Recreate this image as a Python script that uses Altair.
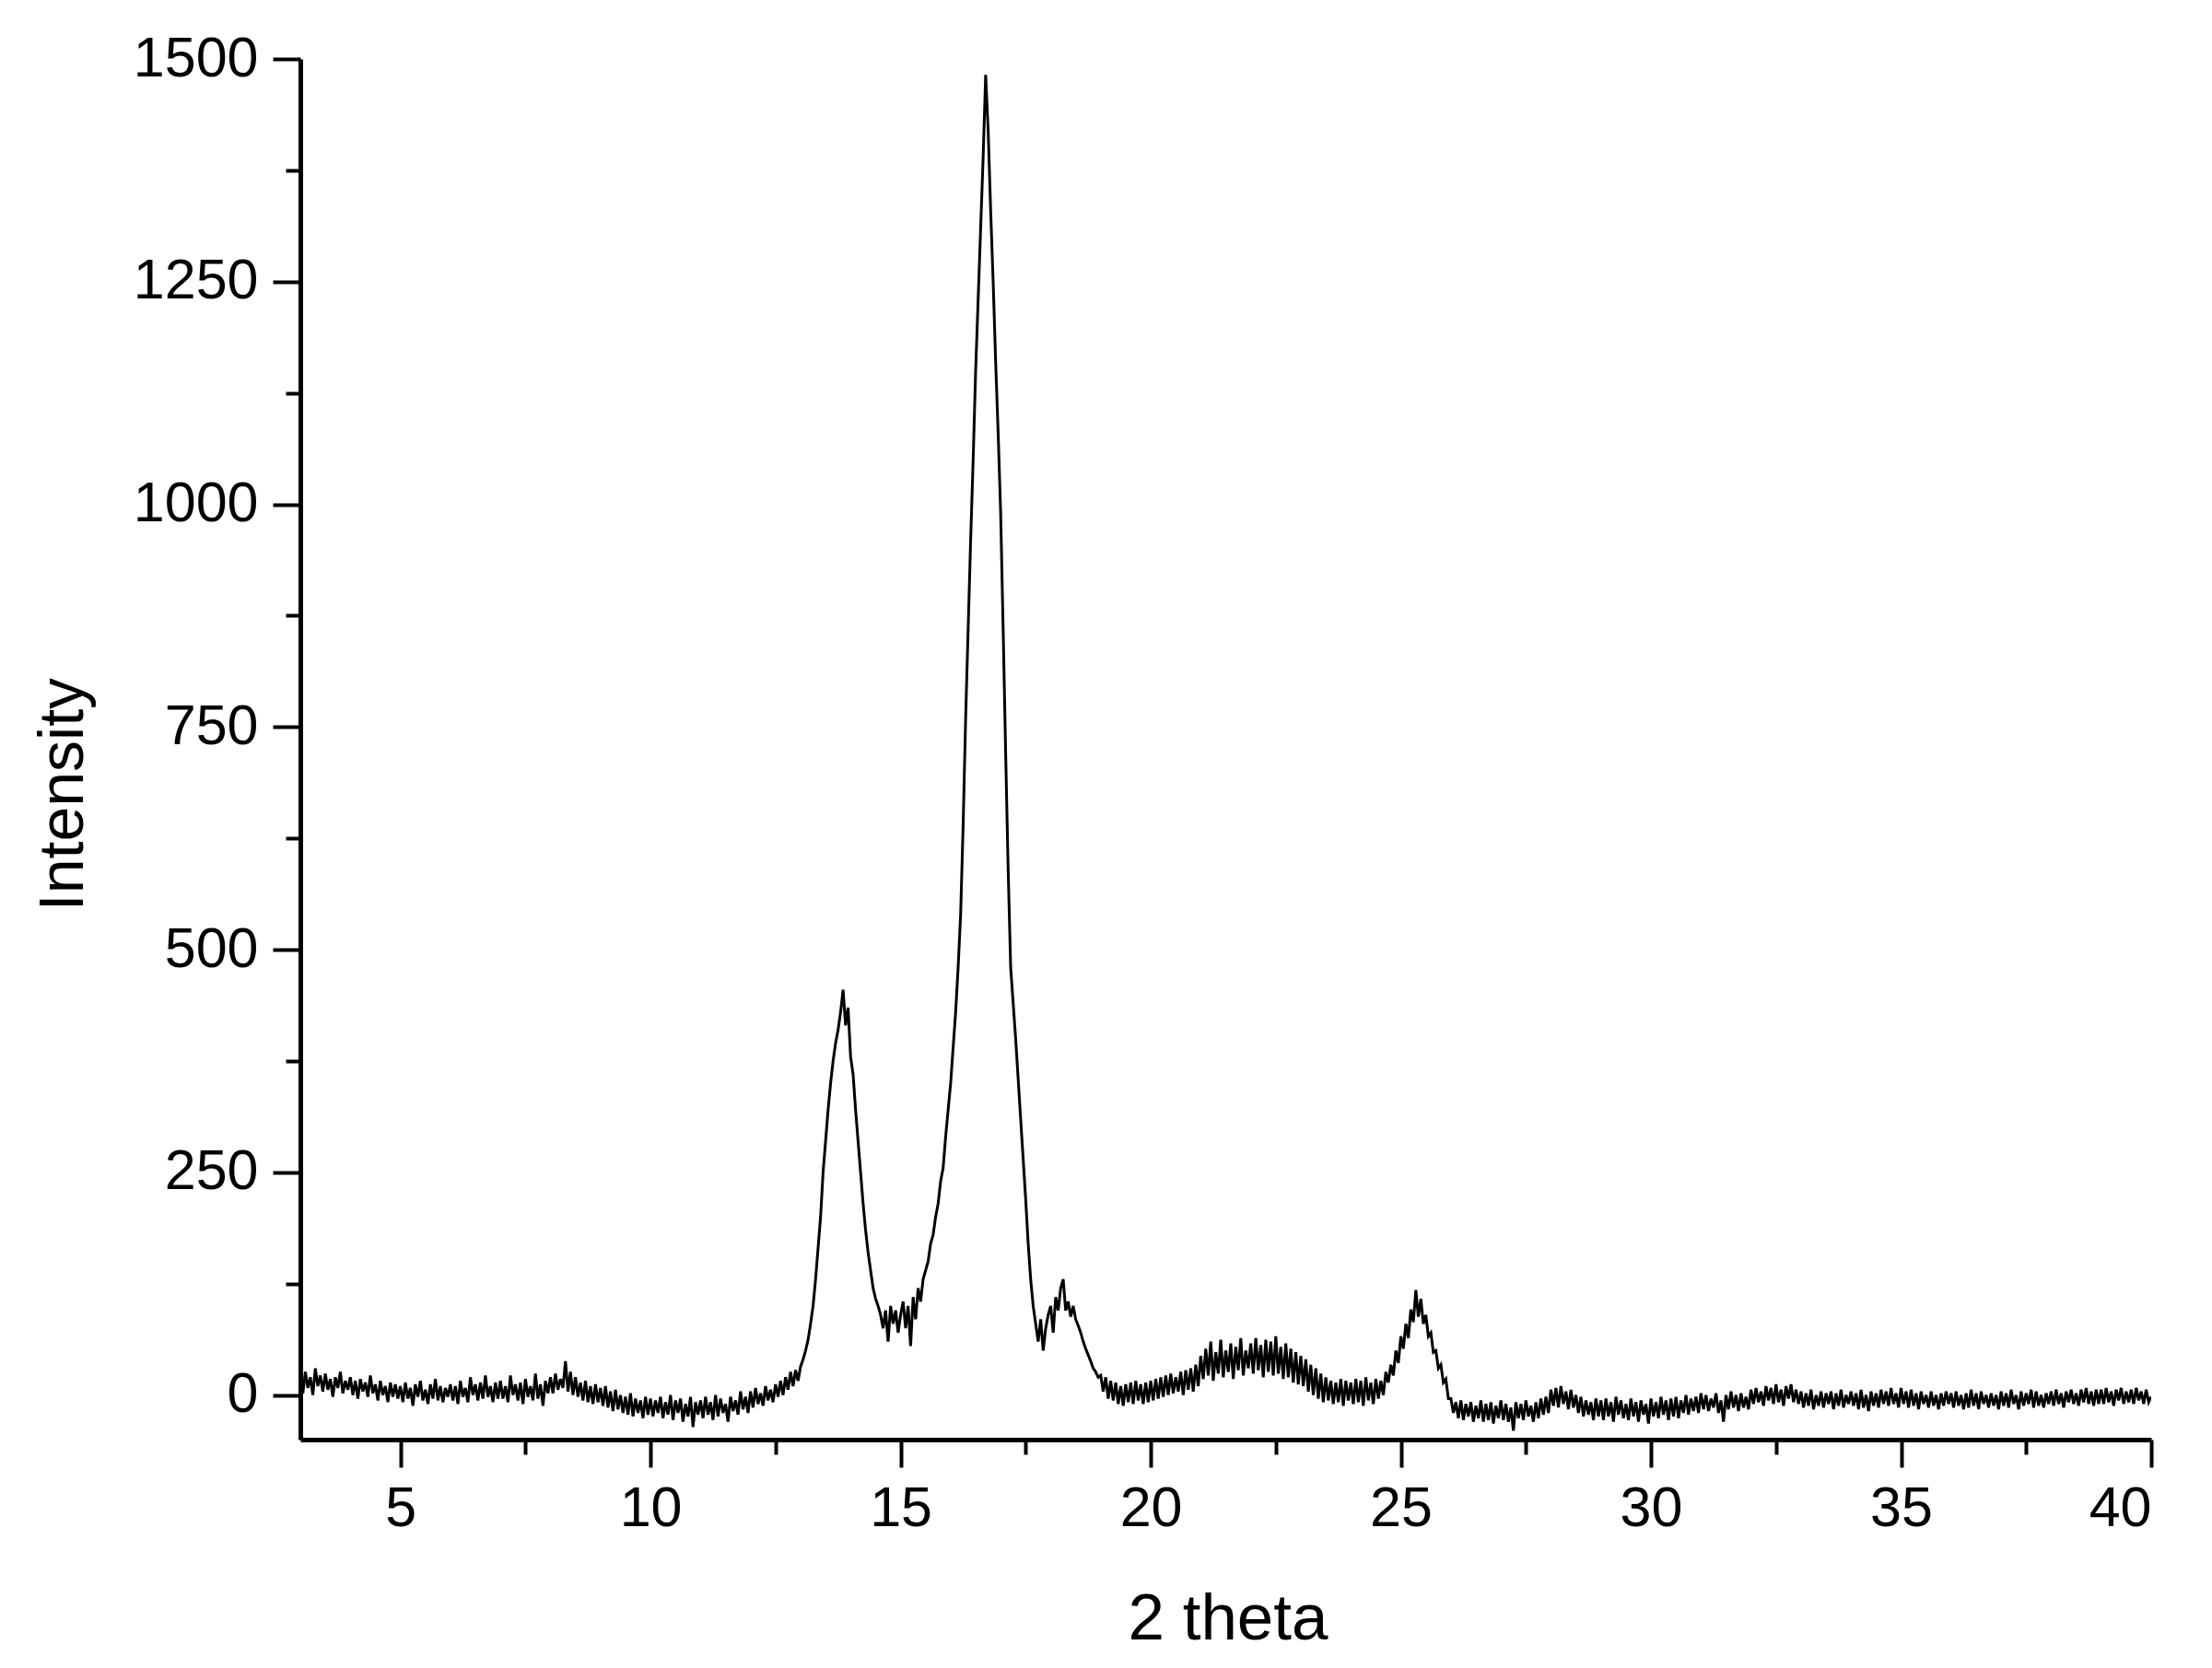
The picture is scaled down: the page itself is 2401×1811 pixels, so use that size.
import altair as alt
import pandas as pd

theta_start = 3.0
theta_step = 0.05
intensity = [
    # 3.00 - 3.95
    18, 2, 26, 8, 20, 0, 30, 10, 22, 4, 24, 6, 18, -2, 20, 8, 26, 2, 16, 6,
    # 4
    20, 0, 16, -4, 18, 4, 14, -2, 22, 2, 12, -6, 16, 0, 10, -8, 14, -2, 12, -4,
    # 5
    10, -8, 14, -4, 8, -12, 12, -2, 16, -6, 6, -10, 12, -4, 18, -6, 10, -8, 8, -2,
    # 6
    12, -6, 10, -10, 16, -2, 8, -8, 20, 0, 12, -6, 14, -4, 22, -2, 10, -8, 14, -4,
    # 7
    16, -4, 10, -8, 22, 0, 12, -6, 14, -10, 18, -2, 10, -6, 24, -4, 12, -12, 16, 2,
    # 8
    20, 2, 24, 6, 18, 8, 38, 4, 26, 0, 20, -2, 14, -6, 16, -8, 10, -10, 12, -8,
    # 9
    8, -12, 10, -14, 4, -18, 6, -16, 0, -20, -2, -22, 2, -24, -4, -20, -6, -26, -2, -22,
    # 10
    -4, -24, -6, -20, -2, -26, -8, -22, 0, -28, -6, -20, -4, -30, -10, -24, -2, -36, -8, -22,
    # 11
    -6, -26, -2, -22, -8, -28, 0, -24, -4, -20, -10, -30, -2, -18, -6, -22, 4, -16, -2, -20,
    # 12
    4, -14, 8, -10, 2, -12, 10, -6, 6, -8, 12, -2, 16, 0, 20, 6, 26, 10, 28, 16,
    # 13
    32, 40, 50, 62, 80, 100, 130, 165, 200, 250, 285, 320, 350, 375, 395, 410, 430, 455, 415, 435,
    # 14
    380, 360, 320, 285, 250, 215, 185, 160, 140, 120, 108, 100, 90, 75, 95, 60, 100, 80, 95, 70,
    # 15
    90, 105, 75, 100, 55, 110, 85, 120, 105, 130, 140, 150, 170, 180, 200, 215, 240, 255, 290, 320,
    # 16
    350, 390, 430, 480, 540, 640, 760, 860, 960, 1050, 1150, 1230, 1310, 1390, 1482, 1420, 1330, 1250, 1160, 1080,
    # 17
    990, 860, 720, 590, 480, 440, 400, 355, 310, 265, 220, 170, 130, 100, 80, 60, 85, 50, 75, 90,
    # 18
    100, 70, 110, 95, 120, 130, 95, 105, 88, 100, 85, 78, 70, 60, 52, 45, 38, 30, 26, 20,
    # 19
    22, 4, 20, -4, 16, -6, 14, -10, 10, -12, 12, -8, 14, -10, 16, -6, 12, -10, 14, -8,
    # 20
    16, -6, 18, -4, 20, -2, 22, 0, 24, 2, 20, 4, 26, 0, 28, 6, 30, 4, 34, 10,
    # 21
    44, 18, 52, 22, 60, 16, 48, 24, 62, 20, 50, 26, 58, 18, 54, 28, 64, 22, 50, 30,
    # 22
    58, 24, 64, 28, 56, 20, 62, 26, 60, 22, 66, 24, 54, 18, 58, 20, 52, 14, 48, 12,
    # 23
    44, 10, 40, 4, 34, 0, 30, -4, 24, -8, 20, -6, 16, -10, 14, -8, 18, -12, 16, -6,
    # 24
    14, -10, 18, -8, 16, -12, 20, -6, 14, -10, 18, -4, 16, 0, 26, 14, 34, 22, 50, 36,
    # 25
    66, 52, 80, 64, 96, 82, 118, 88, 108, 80, 90, 66, 70, 48, 50, 30, 34, 14, 18, -4,
    # 26
    -4, -20, -8, -26, -6, -28, -10, -24, -8, -30, -12, -26, -6, -30, -10, -28, -8, -32, -12, -26,
    # 27
    -6, -28, -10, -30, -14, -40, -8, -26, -10, -28, -6, -24, -12, -30, -8, -26, -4, -22, -2, -20,
    # 28
    6, -12, 8, -14, 10, -10, 4, -16, 6, -14, 0, -20, -2, -24, -6, -22, -8, -28, -4, -24,
    # 29
    -6, -28, -4, -24, -8, -30, -2, -22, -6, -26, -10, -28, -4, -24, -8, -30, -6, -22, -10, -32,
    # 30
    -4, -24, -8, -26, -2, -22, -6, -28, -4, -24, -2, -26, -6, -20, 0, -22, -4, -18, -2, -20,
    # 31
    2, -16, 0, -18, -4, -14, 2, -20, -6, -30, 0, -16, 4, -14, 0, -18, 2, -14, -2, -16,
    # 32
    6, -10, 8, -8, 4, -12, 10, -6, 8, -10, 12, -8, 6, -12, 10, -4, 12, -8, 6, -10,
    # 33
    4, -14, 2, -12, 6, -16, 0, -12, 4, -14, 2, -10, 4, -16, 2, -12, 6, -14, 0, -10,
    # 34
    4, -12, 2, -16, 6, -14, 0, -18, 4, -12, 2, -14, 6, -10, 4, -12, 8, -10, 2, -14,
    # 35
    8, -10, 4, -14, 6, -12, 2, -16, 4, -10, 0, -14, 4, -12, 0, -16, 2, -12, 4, -10,
    # 36
    2, -14, 4, -12, 0, -16, 2, -14, 6, -12, 2, -16, 4, -10, 0, -14, 2, -12, 0, -16,
    # 37
    4, -12, 2, -14, 6, -10, 0, -16, 4, -12, 2, -10, 6, -14, 4, -12, 0, -14, 2, -10,
    # 38
    4, -12, 6, -10, 2, -14, 4, -8, 6, -10, 2, -12, 6, -8, 8, -10, 4, -12, 6, -10,
    # 39
    6, -10, 8, -8, 4, -12, 6, -6, 8, -10, 4, -8, 6, -10, 8, -6, 4, -10, 6, -8,
    # 40.00
    -2,
]
two_theta = [round(theta_start + i * theta_step, 2) for i in range(len(intensity))]

x_major = [5, 10, 15, 20, 25, 30, 35, 40]
x_minor = [7.5, 12.5, 17.5, 22.5, 27.5, 32.5, 37.5]
y_major = [0, 250, 500, 750, 1000, 1250, 1500]
y_minor = [125, 375, 625, 875, 1125, 1375]

df = pd.DataFrame({"two_theta": two_theta, "intensity": intensity})

FONT = "Liberation Sans"
x_scale = alt.Scale(domain=[3, 40], nice=False, zero=False)
y_scale = alt.Scale(domain=[-50, 1500], nice=False, zero=False)

W, H = 2009, 1499

line = alt.Chart(df).mark_line(color="black", strokeWidth=3, clip=True).encode(
    x=alt.X(
        "two_theta:Q",
        scale=x_scale,
        axis=alt.Axis(
            orient="bottom", values=x_major, format="d", grid=False,
            domainColor="black", domainWidth=5, tickColor="black", tickWidth=4, tickSize=30,
            labelFont=FONT, labelFontSize=61, labelColor="black", labelPadding=15,
            title="2 theta", titleFont=FONT, titleFontSize=71, titleFontWeight="normal",
            titleColor="black", titleX=W / 2 + 2, titleY=216, titleBaseline="alphabetic",
            titleAlign="center",
        ),
    ),
    y=alt.Y(
        "intensity:Q",
        scale=y_scale,
        axis=alt.Axis(
            orient="left", values=y_major, format="d", grid=False,
            domainColor="black", domainWidth=5, tickColor="black", tickWidth=4, tickSize=30,
            labelFont=FONT, labelFontSize=61, labelColor="black", labelPadding=16,
            title="Intensity", titleFont=FONT, titleFontSize=68, titleFontWeight="normal",
            titleColor="black", titleAngle=270, titleX=-237, titleY=798,
            titleBaseline="alphabetic", titleAlign="center",
        ),
    ),
)

minor = alt.Chart(df).mark_point(opacity=0).encode(
    x=alt.X(
        "two_theta:Q",
        scale=x_scale,
        axis=alt.Axis(
            orient="bottom", values=x_minor, labels=False, domain=False, grid=False,
            tickColor="black", tickWidth=4, tickSize=16, title="",
        ),
    ),
    y=alt.Y(
        "intensity:Q",
        scale=y_scale,
        axis=alt.Axis(
            orient="left", values=y_minor, labels=False, domain=False, grid=False,
            tickColor="black", tickWidth=4, tickSize=16, title="",
        ),
    ),
)

chart = (
    alt.layer(minor, line)
    .resolve_axis(x="independent", y="independent")
    .properties(
        width=W,
        height=H,
        autosize=alt.AutoSizeParams(type="none"),
        padding={"left": 318, "top": 56, "right": 50, "bottom": 230},
        background="white",
    )
    .configure_view(strokeWidth=0)
)

chart.save("out.html", embed_options={"renderer": "svg", "actions": False})
